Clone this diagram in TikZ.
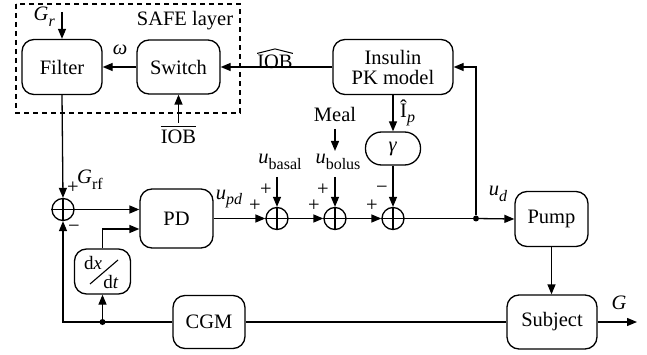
\documentclass[tikz,border=0pt]{standalone}
\usepackage{fontspec}
\setmainfont{Liberation Serif}
\usetikzlibrary{arrows.meta,calc}
\newcommand\sbs[1]{\raisebox{-0.28em}{\fontsize{16}{16}\selectfont #1}}
\begin{document}
\begin{tikzpicture}[x=1pt,y=-1pt,
  every node/.style={font=\fontsize{20.5}{23}\selectfont},
  blk/.style={draw,line width=1.3pt,rounded corners=12pt,inner sep=0pt,align=center},
  sumn/.style={draw,circle,line width=1.3pt,minimum size=22pt,inner sep=0pt},
  lbl/.style={inner sep=0pt},
  ln/.style={line width=1.3pt},
  arr/.style={line width=1.3pt,-{Triangle[length=10pt,width=8pt]}},
  dot/.style={circle,fill,inner sep=0pt,minimum size=6pt}]
\useasboundingbox (0,0) rectangle (647,355);
% dashed SAFE box
\draw[line width=1.2pt,dash pattern=on 5pt off 4pt] (16,4) rectangle (240,113);
\node[lbl] (safe) at (185,21) {SAFE layer};
% blocks
\node[blk,minimum width=80pt,minimum height=55pt] (filter) at (62,67) {Filter};
\node[blk,minimum width=83pt,minimum height=54pt] (switch) at (178.5,67) {Switch};
\node[blk,minimum width=120pt,minimum height=55pt] (insulin) at (393,67) {Insulin\\[-3pt]PK model};
\node[blk,rounded corners=16pt,minimum width=55pt,minimum height=33pt] (gamma) at (393,148.5) {\textit{γ}};
\node[blk,minimum width=73pt,minimum height=59pt] (pd) at (176.5,218.5) {PD};
\node[blk,minimum width=73pt,minimum height=55pt] (pump) at (551.5,219) {Pump};
\node[blk,minimum width=90pt,minimum height=54pt] (subject) at (552,322) {Subject};
\node[blk,minimum width=72pt,minimum height=53pt] (cgm) at (209,322) {CGM};
\node[blk,minimum width=56pt,minimum height=45pt] (deriv) at (102.5,271.5) {};
\node[lbl,font=\fontsize{19}{21}\selectfont] (dx) at (93,263) {d\textit{x}};
\node[lbl,font=\fontsize{19}{21}\selectfont] (dt) at (111,282) {d\textit{t}};
\draw[line width=1.1pt] (90,284) -- (118,260);
% summing junctions
\node[sumn] (s0) at (63,209.5) {};
\node[sumn] (s1) at (277,218.5) {};
\node[sumn] (s2) at (335,218.5) {};
\node[sumn] (s3) at (393,218.5) {};
\foreach \s in {s0,s1,s2,s3}{
  \draw[line width=1.1pt] (\s.north) -- (\s.south) (\s.west) -- (\s.east);}
% dots
\coordinate (jdc) at (476,218.5);
\node[dot] (jd) at (jdc) {};
\node[dot] (jl) at (deriv.south |- cgm.west) {};
% external coordinates
\coordinate (grin) at (62,12);
\coordinate (b1) at (277,177);
\coordinate (b2) at (335,177);
\coordinate (m1) at (335,129);
\coordinate (m2) at (335,151);
\coordinate (iobin) at (178.5,123);
\coordinate (gout) at (637,322);
% labels
\node[lbl,anchor=east] (gr) at (55,17) {\textit{G}\sbs{\textit{r}}};
\node[lbl] (omega) at (120,50) {\textit{ω}};
\node[lbl] (iobhat) at (275,62) {IOB};
\draw[line width=1pt] ($(iobhat.north west)+(0,-1.5)$) -- ($(iobhat.north)+(0,-6)$) -- ($(iobhat.north east)+(0,-1.5)$);
\node[lbl] (ioboar) at (178.5,137) {IOB};
\draw[line width=1pt] ($(ioboar.north west)+(0,-3)$) -- ($(ioboar.north east)+(0,-3)$);
\node[lbl,anchor=west] (ip) at (400,113) {\^{I}\sbs{\textit{p}}};
\node[lbl] (meal) at (335,114) {Meal};
\node[lbl] (basal) at (280,162) {\textit{u}\sbs{basal}};
\node[lbl] (bolus) at (338,162) {\textit{u}\sbs{bolus}};
\node[lbl,anchor=west] (grf) at (77,180) {\textit{G}\sbs{rf}};
\node[lbl] (p0) at (73,188) {+};
\node[lbl] (m0) at (74,229) {−};
\node[lbl] (upd) at (229,199) {\textit{u}\sbs{\textit{pd}}};
\node[lbl] (p1a) at (266,190) {+};
\node[lbl] (p1b) at (255,206) {+};
\node[lbl] (p2a) at (323,190) {+};
\node[lbl] (p2b) at (314,206) {+};
\node[lbl] (m3a) at (382,190) {−};
\node[lbl] (p3b) at (372,206) {+};
\node[lbl] (ud) at (498,194) {\textit{u}\sbs{\textit{d}}};
\node[lbl] (gl) at (619,303) {\textit{G}};
% connectors
\draw[arr] (grin) -- (filter.north);
\draw[arr] (switch.west) -- (filter.east);
\draw[arr] (insulin.west) -- (switch.east);
\draw[arr] (iobin) -- (switch.south);
\draw[arr] (filter.south) -- (s0.north);
\draw[arr] (s0.east) -- (s0.east -| pd.west);
\draw[arr] (deriv.north) |- ($(pd.west)+(0,10.5)$);
\draw[arr] (pd.east) -- (s1.west);
\draw[arr] (s1.east) -- (s2.west);
\draw[arr] (s2.east) -- (s3.west);
\draw[arr] (b1) -- (s1.north);
\draw[arr] (b2) -- (s2.north);
\draw[arr] (m1) -- (m2);
\draw[arr] (insulin.south) -- (gamma.north);
\draw[arr] (gamma.south) -- (s3.north);
\draw[ln] (s3.east) -- (jd);
\draw[arr] (jd) -- (pump.west);
\draw[arr] (jd) |- (insulin.east);
\draw[arr] (pump.south) -- (pump.south |- subject.north);
\draw[arr] (subject.east) -- (gout);
\draw[ln] (subject.west) -- (cgm.east);
\draw[arr] (cgm.west) -| (s0.south);
\draw[arr] (jl) -- (deriv.south);
\end{tikzpicture}
\end{document}
